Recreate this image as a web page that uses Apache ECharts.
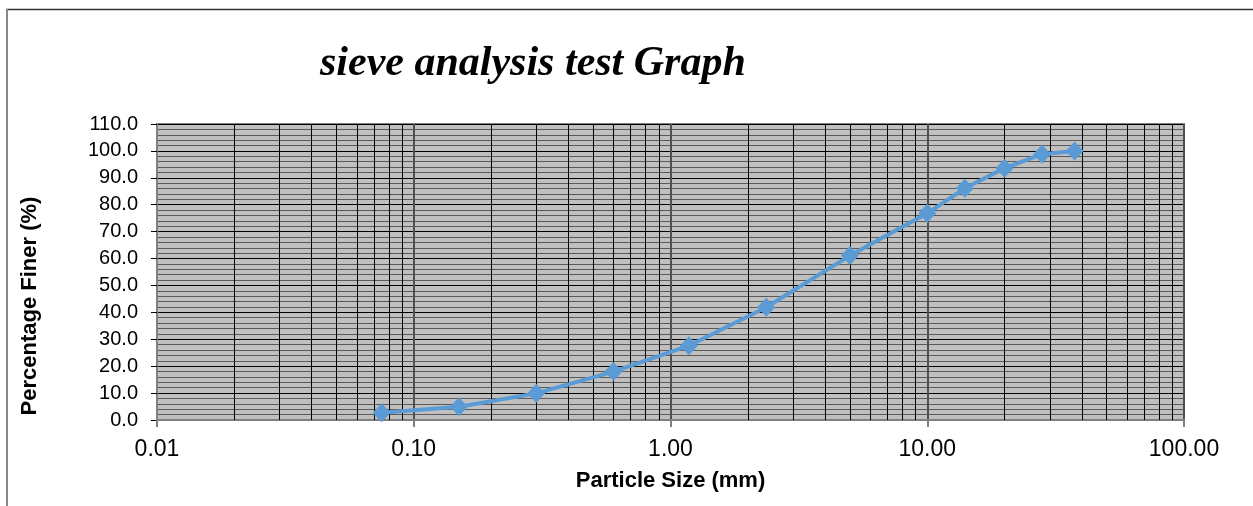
<!DOCTYPE html>
<html>
<head>
<meta charset="utf-8">
<title>sieve analysis test Graph</title>
<script src="https://cdn.jsdelivr.net/npm/echarts@6/dist/echarts.min.js"></script>
<style>
    html, body { margin: 0; padding: 0; background: #fff; }
    #main { width: 1253px; height: 506px; }
</style>
</head>
<body>
<div id="main"></div>
<script>
// sieve sizes (mm) and percentage finer
var sieveSizes = [0.075, 0.15, 0.3, 0.6, 1.18, 2.36, 5, 10, 14, 20, 28, 37.5];
var percentFiner = [2.7, 4.9, 9.9, 18.0, 27.6, 41.9, 61.1, 76.8, 86.1, 93.6, 98.8, 100.0];
var decades = [0.01, 0.1, 1, 10];

// minor log gridlines: 2..9 in each decade
var minorLines = [];
decades.forEach(function (d) {
    for (var k = 2; k <= 9; k++) {
        minorLines.push({ xAxis: +(k * d).toPrecision(3) });
    }
});

var chart = echarts.init(document.getElementById('main'));

chart.setOption({
    animation: false,
    title: {
        text: 'sieve analysis test Graph',
        left: 315,
        top: 38,
        textStyle: {
            fontFamily: 'Liberation Serif',
            fontStyle: 'italic',
            fontWeight: 'bold',
            fontSize: 42,
            color: '#000'
        }
    },
    graphic: [{
        type: 'line',
        shape: { x1: 6, y1: 9.5, x2: 1253, y2: 9.5 },
        style: { stroke: '#333', lineWidth: 1.5 }
    }, {
        type: 'line',
        shape: { x1: 7, y1: 9, x2: 7, y2: 506 },
        style: { stroke: '#888', lineWidth: 2 }
    }],
    grid: {
        left: 157,
        right: 69,
        top: 124,
        bottom: 86,
        show: true,
        backgroundColor: '#c0c0c0',
        borderColor: '#808080',
        borderWidth: 2
    },
    xAxis: {
        type: 'log',
        logBase: 10,
        min: 0.01,
        max: 100,
        name: 'Particle Size (mm)',
        nameLocation: 'middle',
        nameGap: 50,
        nameTextStyle: { fontFamily: 'Liberation Sans', fontWeight: 'bold', fontSize: 22, color: '#000' },
        axisLine: { lineStyle: { color: '#808080', width: 2 } },
        axisTick: { show: true, length: 7, lineStyle: { color: '#808080', width: 2 } },
        axisLabel: {
            margin: 18,
            fontFamily: 'Liberation Sans',
            fontSize: 23,
            color: '#000',
            formatter: function (v) { return v.toFixed(2); }
        },
        splitLine: { show: true, lineStyle: { color: '#505050', width: 2 } }
    },
    yAxis: {
        type: 'value',
        min: 0,
        max: 110,
        interval: 10,
        name: 'Percentage Finer (%)',
        nameLocation: 'middle',
        nameGap: 116,
        nameTextStyle: {
            fontFamily: 'Liberation Sans', fontWeight: 'bold', fontSize: 22, color: '#000',
            padding: [0, 68, 0, 0]
        },
        axisLine: { show: true, lineStyle: { color: '#808080', width: 2 } },
        axisTick: { show: true, length: 6, lineStyle: { color: '#000' } },
        axisLabel: {
            margin: 19,
            fontFamily: 'Liberation Sans',
            fontSize: 20,
            color: '#000',
            formatter: function (v) { return v.toFixed(1); }
        },
        splitLine: { show: true, lineStyle: { color: '#000', width: 1 } },
        minorTick: { show: false, splitNumber: 5 },
        minorSplitLine: { show: true, lineStyle: { color: '#5a5a5a', width: 1 } }
    },
    series: [{
        type: 'line',
        name: 'grid',
        data: [],
        silent: true,
        z: 1,
        markLine: {
            silent: true,
            z: 1,
            symbol: ['none', 'none'],
            label: { show: false },
            lineStyle: { type: 'solid', color: '#000', width: 1 },
            emphasis: { disabled: true },
            data: minorLines
        }
    }, {
        type: 'line',
        name: 'Percentage Finer',
        z: 3,
        data: sieveSizes.map(function (s, i) { return [s, percentFiner[i]]; }),
        symbol: 'diamond',
        symbolSize: [18, 19],
        itemStyle: { color: '#5b9bd5' },
        lineStyle: { color: '#5b9bd5', width: 4 }
    }]
});
</script>
</body>
</html>
